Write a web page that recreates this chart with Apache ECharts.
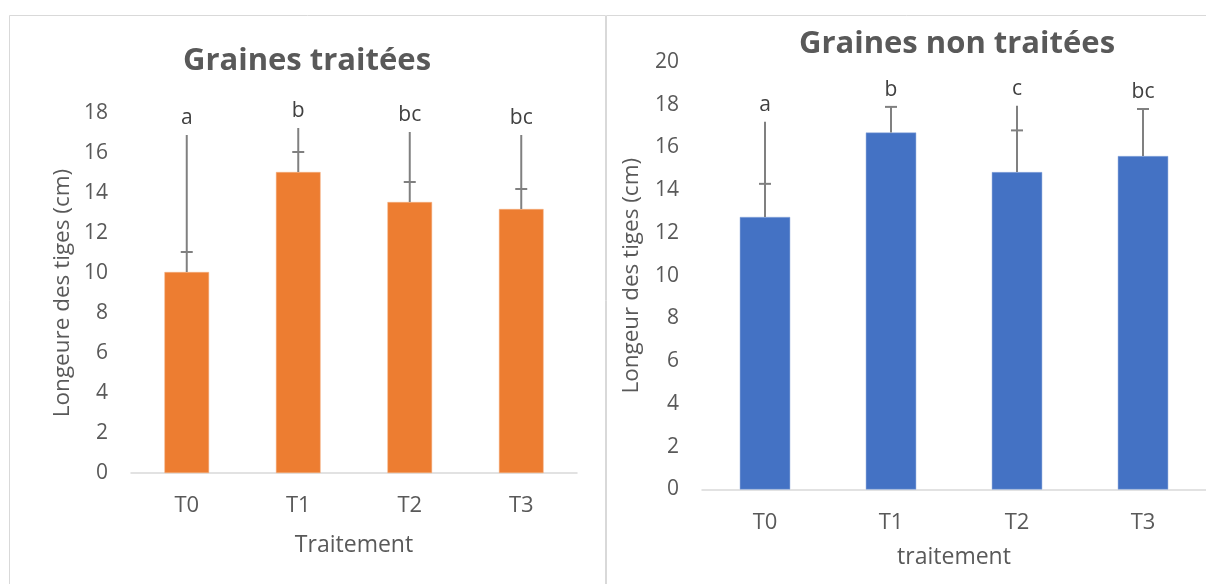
<!DOCTYPE html>
<html>
<head>
<meta charset="utf-8">
<script src="https://cdn.jsdelivr.net/npm/echarts@6/dist/echarts.min.js"></script>
<style>
  html, body { margin: 0; padding: 0; background: #fff; }
  #chart { width: 1206px; height: 584px; }
</style>
</head>
<body>
<div id="chart"></div>
<script>
// categories
const categories = ['T0', 'T1', 'T2', 'T3'];

// Graines traitées
const treatedMean = [10.05, 15.05, 13.55, 13.2];
const treatedTick = [11.05, 16.05, 14.55, 14.2];
const treatedTop = [16.9, 17.25, 17.05, 16.9];
const treatedLetters = ['a', 'b', 'bc', 'bc'];

// Graines non traitées
const untreatedMean = [12.75, 16.7, 14.85, 15.6];
const untreatedTick = [14.3, 17.9, 16.8, 17.8];
const untreatedTop = [17.2, 17.9, 17.95, 17.8];
const untreatedLetters = ['a', 'b', 'c', 'bc'];

const font = 'Open Sans';
const grey = '#595959';

const chart = echarts.init(document.getElementById('chart'));

// data for the error bar + letter custom series
function errData(mean, tick, top, letters) {
  return mean.map((m, i) => [i, m, tick[i], top[i], letters[i]]);
}

function renderErr(params, api) {
  const i = api.value(0);
  const p0 = api.coord([i, api.value(1)]);
  const pt = api.coord([i, api.value(2)]);
  const p1 = api.coord([i, api.value(3)]);
  const letter = params.seriesIndex === 2 ? treatedLetters[params.dataIndex] : untreatedLetters[params.dataIndex];
  const st = { stroke: '#808080', lineWidth: 2 };
  return {
    type: 'group',
    children: [
      { type: 'line', shape: { x1: p0[0], y1: p0[1], x2: p1[0], y2: p1[1] }, style: st },
      { type: 'line', shape: { x1: pt[0] - 6, y1: pt[1], x2: pt[0] + 6, y2: pt[1] }, style: st },
      {
        type: 'text',
        x: p1[0], y: p1[1] - 17,
        style: {
          text: letter, fill: '#404040', font: '21px "' + font + '"',
          align: 'center', verticalAlign: 'middle'
        }
      }
    ]
  };
}

function yAxisOpt(gridIndex, max, name, gap) {
  return {
    type: 'value', gridIndex: gridIndex, min: 0, max: max, interval: 2,
    name: name, nameLocation: 'middle', nameGap: gap,
    nameTextStyle: { color: grey, fontFamily: font, fontSize: 22.5 },
    axisLine: { show: false }, axisTick: { show: false },
    splitLine: { show: false },
    axisLabel: { color: grey, fontFamily: font, fontSize: 21, margin: 23 }
  };
}

function xAxisOpt(gridIndex, name, gap) {
  return {
    type: 'category', gridIndex: gridIndex, data: categories,
    name: name, nameLocation: 'middle', nameGap: gap,
    nameTextStyle: { color: grey, fontFamily: font, fontSize: 23 },
    axisLine: { lineStyle: { color: '#D9D9D9', width: 1.5 } },
    axisTick: { show: false },
    axisLabel: { color: grey, fontFamily: font, fontSize: 22, margin: 22 }
  };
}

const option = {
  animation: false,
  backgroundColor: '#fff',
  graphic: [
    { type: 'rect', shape: { x: 9.5, y: 15.5, width: 596, height: 600 }, style: { fill: 'none', stroke: '#D9D9D9', lineWidth: 1 } },
    { type: 'rect', shape: { x: 606.5, y: 15.5, width: 620, height: 600 }, style: { fill: 'none', stroke: '#D9D9D9', lineWidth: 1 } }
  ],
  title: [
    {
      text: 'Graines traitées', left: 302, top: 41, textAlign: 'center',
      textStyle: { color: grey, fontFamily: font, fontWeight: 'bold', fontSize: 31 }
    },
    {
      text: 'Graines non traitées', left: 952, top: 24, textAlign: 'center',
      textStyle: { color: grey, fontFamily: font, fontWeight: 'bold', fontSize: 31 }
    }
  ],
  grid: [
    { left: 131, top: 113, width: 446, height: 360 },
    { left: 702, top: 62, width: 516, height: 427.5 }
  ],
  xAxis: [xAxisOpt(0, 'Traitement', 61), xAxisOpt(1, 'traitement', 56)],
  yAxis: [
    yAxisOpt(0, 18, 'Longeure des tiges (cm)', 57),
    yAxisOpt(1, 20, 'Longeur des tiges (cm)', 59)
  ],
  series: [
    {
      type: 'bar', xAxisIndex: 0, yAxisIndex: 0, barWidth: '40%',
      itemStyle: { color: '#ED7D31', borderColor: '#F4B183', borderWidth: 0.5 },
      data: treatedMean
    },
    {
      type: 'bar', xAxisIndex: 1, yAxisIndex: 1, barWidth: '40%',
      itemStyle: { color: '#4472C4', borderColor: '#8FAADC', borderWidth: 0.5 },
      data: untreatedMean
    },
    {
      type: 'custom', xAxisIndex: 0, yAxisIndex: 0, z: 5,
      renderItem: renderErr,
      data: errData(treatedMean, treatedTick, treatedTop, treatedLetters)
    },
    {
      type: 'custom', xAxisIndex: 1, yAxisIndex: 1, z: 5,
      renderItem: renderErr,
      data: errData(untreatedMean, untreatedTick, untreatedTop, untreatedLetters)
    }
  ]
};

chart.setOption(option);
</script>
</body>
</html>
